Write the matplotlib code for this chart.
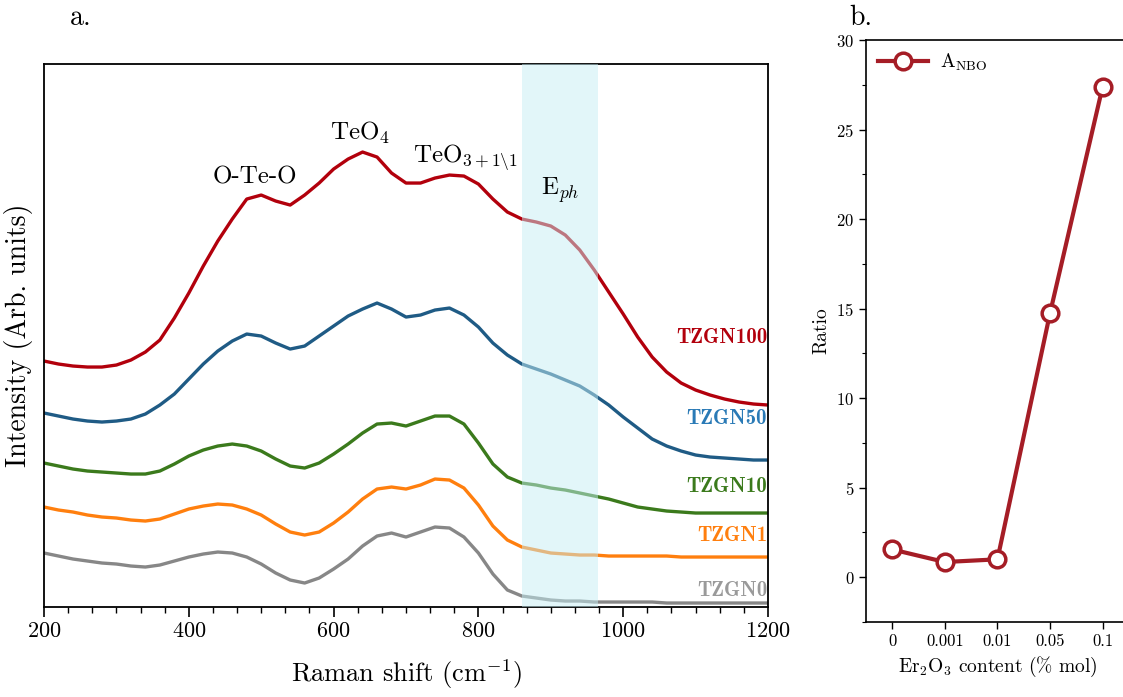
import numpy as np
import matplotlib
matplotlib.use("Agg")
import matplotlib.pyplot as plt
from matplotlib.ticker import AutoMinorLocator, MultipleLocator

plt.rcParams['font.family'] = 'serif'
plt.rcParams['font.serif'] = ['cmr10', 'DejaVu Serif']
plt.rcParams['mathtext.fontset'] = 'cm'
plt.rcParams['axes.unicode_minus'] = False
plt.rcParams['axes.formatter.use_mathtext'] = True

# Raman spectra (arb. units, offset stacked)
shift = np.arange(200, 1201, 20)
tzgn100 = [246, 243, 241, 240, 240, 242, 247, 255, 267, 289, 314, 341, 366, 388, 408, 412, 406,
           402, 412, 424, 438, 448, 455, 450, 434, 424, 424, 429, 432, 431, 423, 408, 395, 388,
           385, 381, 372, 357, 337, 315, 293, 270, 250, 235, 224, 217, 212, 208, 205, 203, 202]
tzgn50 = [194, 191, 188, 186, 185, 186, 188, 193, 202, 213, 228, 243, 256, 266, 273, 271, 264,
          258, 261, 271, 281, 291, 298, 304, 298, 290, 292, 297, 299, 292, 280, 264, 252, 243,
          238, 233, 227, 221, 212, 202, 190, 179, 168, 161, 156, 152, 150, 149, 148, 147, 147]
tzgn10 = [144, 141, 138, 136, 135, 134, 133, 133, 136, 143, 151, 157, 161, 163, 161, 156, 148,
          141, 139, 144, 153, 163, 174, 183, 184, 181, 186, 191, 191, 183, 164, 143, 130, 124,
          122, 119, 117, 114, 111, 108, 104, 100, 98, 96, 95, 94, 94, 94, 94, 94, 94]
tzgn1 = [100, 97, 95, 92, 90, 89, 87, 86, 88, 93, 98, 101, 103, 102, 98, 92, 83,
         75, 72, 75, 84, 95, 108, 118, 120, 118, 122, 128, 127, 119, 102, 81, 67, 60,
         57, 54, 53, 52, 52, 51, 51, 51, 51, 51, 50, 50, 50, 50, 50, 50, 50]
tzgn0 = [54, 51, 48, 46, 44, 43, 41, 40, 42, 46, 50, 53, 55, 54, 50, 43, 34,
         27, 24, 29, 38, 48, 61, 71, 74, 70, 75, 80, 79, 70, 54, 33, 17, 11,
         9, 7, 6, 6, 5, 5, 5, 5, 5, 4, 4, 4, 4, 4, 4, 4, 4]

samples = ['TZGN100', 'TZGN50', 'TZGN10', 'TZGN1', 'TZGN0']
spectra = [tzgn100, tzgn50, tzgn10, tzgn1, tzgn0]
line_colors = ['#b2000c', '#1f5b85', '#3b7a1c', '#ff7f0e', '#878787']
label_colors = ['#b2000c', '#2a7ab6', '#3b7a1c', '#ff7f0e', '#9a9a9a']
label_y = [270, 189, 121, 72, 17]

peak_names = ['O-Te-O', r'TeO$_4$', r'TeO$_{3+1\backslash1}$', r'E$_{ph}$']
peak_pos = [491, 636, 782, 913]
peak_y = [430, 474, 449, 417]

# ratio panel
er_content = ['0', '0.001', '0.01', '0.05', '0.1']
a_nbo = [1.55, 0.85, 1.0, 14.75, 27.4]

fig = plt.figure(figsize=(11.23, 6.97), dpi=100)

ax = fig.add_axes([0.0392, 0.1291, 0.6447, 0.779])
for name, y, c in zip(samples, spectra, line_colors):
    ax.plot(shift, y, color=c, lw=2.4, zorder=2, solid_joinstyle='round')
ax.axvspan(860, 965, color='#c6eff5', alpha=0.5, lw=0, zorder=3)
for name, c, ly in zip(samples, label_colors, label_y):
    ax.text(1199, ly, name, color=c, fontsize=15, family=['cmb10', 'DejaVu Serif'],
            ha='right', va='center', zorder=4)
for t, px, py in zip(peak_names, peak_pos, peak_y):
    ax.text(px, py, t, fontsize=18, ha='center', va='center', zorder=4)

ax.set_xlim(200, 1200)
ax.set_ylim(0, 543)
ax.set_yticks([])
ax.xaxis.set_minor_locator(AutoMinorLocator(6))
ax.tick_params(axis='x', which='major', direction='out', length=7, width=1.2, labelsize=16)
ax.tick_params(axis='x', which='minor', direction='out', length=4, width=1.0)
for s in ax.spines.values():
    s.set_linewidth(1.3)
ax.set_xlabel(r'Raman shift (cm$^{\mathregular{-1}}$)', fontsize=19, labelpad=12)
ax.set_ylabel('Intensity (Arb. units)', fontsize=20, labelpad=8)
fig.text(0.062, 0.964, 'a.', fontsize=20, va='baseline')

bx = fig.add_axes([0.7711, 0.1076, 0.2342, 0.835])
pos = np.arange(len(er_content))
bx.plot(pos, a_nbo, color='#a51d26', lw=3, marker='o', ms=12, mfc='white',
        mec='#a51d26', mew=2.5, label=r'A$_{\mathrm{NBO}}$', clip_on=False, zorder=3)
bx.set_xlim(-0.5, 4.5)
bx.set_ylim(-2.5, 30)
bx.set_xticks(pos)
bx.set_xticklabels(er_content)
bx.yaxis.set_major_locator(MultipleLocator(5))
bx.yaxis.set_minor_locator(MultipleLocator(2.5))
bx.tick_params(which='major', direction='out', length=5, width=1.0, labelsize=12)
bx.tick_params(which='minor', direction='out', length=3, width=0.8)
for s in bx.spines.values():
    s.set_linewidth(1.2)
bx.set_ylabel('Ratio', fontsize=14)
bx.set_xlabel(r'Er$_2$O$_3$ content (% mol)', fontsize=14)
bx.legend(loc='upper left', frameon=False, fontsize=14, handlelength=2.6,
          borderaxespad=0.2, handletextpad=0.6)
fig.text(0.756, 0.964, 'b.', fontsize=20, va='baseline')

fig.savefig('out.png', dpi=100)
